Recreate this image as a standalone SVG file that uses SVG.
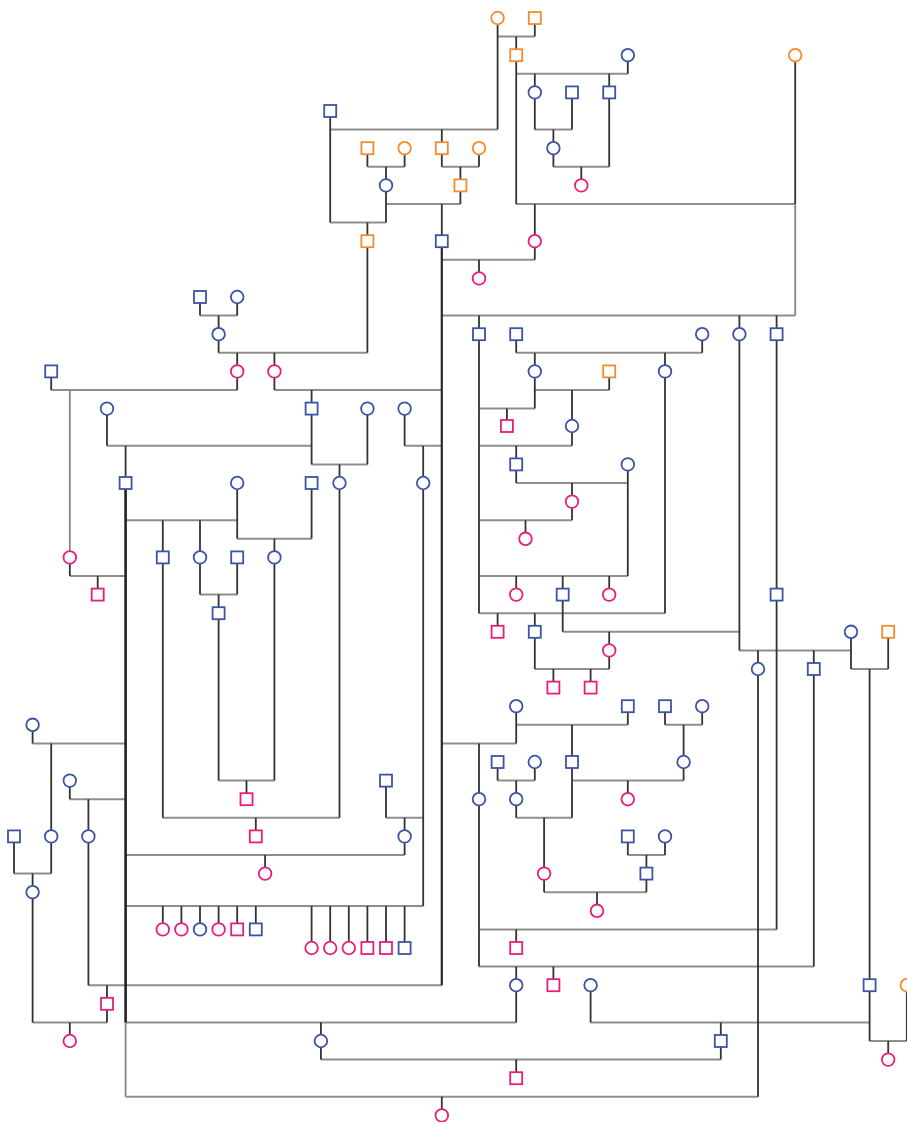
<svg xmlns="http://www.w3.org/2000/svg" width="907" height="1122" viewBox="0 0 907 1122">
<style>
.h{fill:none;stroke:#8e8e8e;stroke-width:2}
.v{fill:none;stroke:#333;stroke-width:1.8}
.g{fill:none;stroke:#858585;stroke-width:1.8}
.t{fill:none;stroke:#222;stroke-width:2.6}
.t2{fill:none;stroke:#2a2a2a;stroke-width:2.2}
circle,rect{fill:#fff;stroke-width:1.8}
.o{stroke:#f68b2c}.b{stroke:#3b54a5}.p{stroke:#e91e7b}
</style>
<rect width="907" height="1122" fill="#fff"/>
<g id="connectors">
<path class="h" d="M497.6 36.6H534.8M330.2 129.6H497.6M330.2 222.6H386M516.2 73.8H627.8M534.8 129.6H572M553.4 166.8H609.2M516.2 204H795.2M367.4 166.8H404.6M441.8 166.8H479M386 204H460.4M441.8 259.8H534.8M441.8 315.6H795.2M200 315.6H237.2M218.6 352.8H367.4M51.2 390H237.2M274.4 390H441.8M107 445.8H311.6M311.6 464.4H367.4M404.6 445.8H441.8M516.2 352.8H702.2M534.8 390H609.2M479 408.6H534.8M479 445.8H572M516.2 483H627.8M479 520.2H572M479 576H627.8M479 613.2H665M562.7 631.8H739.4M739.4 650.4H851M851 669H888.2M534.8 669H609.2M125.6 520.2H237.2M237.2 538.8H311.6M69.8 576H125.6M200 594.6H237.2M218.6 780.6H274.4M162.8 817.8H339.5M32.6 743.4H125.6M69.8 799.2H125.6M125.6 855H404.6M386 817.8H423.2M125.6 906H423.2M14 873.6H51.2M32.6 1022.4H107M88.4 985.2H441.8M125.6 1022.4H516.2M125.6 1096.8H758M320.9 1059.6H720.8M590.6 1022.4H869.6M869.6 1041H906.8M441.8 743.4H516.2M516.2 724.8H627.8M665 724.8H702.2M497.6 780.6H534.8M572 780.6H683.6M516.2 817.8H572M627.8 855H665M544.1 892.2H646.4M479 929.4H776.6M479 966.6H813.8"/>
<path class="v" d="M497.6 18V129.6M534.8 18V36.6M330.2 111V222.6M516.2 55.2V204M627.8 55.2V73.8M795.2 55.2V204M534.8 92.4V129.6M572 92.4V129.6M609.2 92.4V166.8M553.4 148.2V166.8M367.4 148.2V166.8M404.6 148.2V166.8M441.8 148.2V166.8M479 148.2V166.8M386 185.4V222.6M460.4 185.4V204M367.4 241.2V352.8M534.8 241.2V259.8M200 297V315.6M237.2 297V315.6M218.6 334.2V352.8M479 334.2V613.2M516.2 334.2V352.8M702.2 334.2V352.8M739.4 334.2V650.4M776.6 334.2V929.4M51.2 371.4V390M237.2 371.4V390M274.4 371.4V390M534.8 371.4V408.6M609.2 371.4V390M665 371.4V613.2M107 408.6V445.8M311.6 408.6V464.4M367.4 408.6V464.4M404.6 408.6V445.8M572 426V445.8M516.2 464.4V483M627.8 464.4V576M237.2 483V538.8M311.6 483V538.8M339.5 483V817.8M423.2 483V906M572 501.6V520.2M69.8 557.4V576M162.8 557.4V817.8M200 557.4V594.6M237.2 557.4V594.6M274.4 557.4V780.6M562.7 594.6V631.8M218.6 613.2V780.6M534.8 631.8V669M851 631.8V669M888.2 631.8V669M609.2 650.4V669M758 669V1096.8M813.8 669V966.6M32.6 724.8V743.4M516.2 706.2V743.4M627.8 706.2V724.8M665 706.2V724.8M702.2 706.2V724.8M497.6 762V780.6M534.8 762V780.6M572 762V817.8M683.6 762V780.6M69.8 780.6V799.2M386 780.6V817.8M479 799.2V966.6M516.2 799.2V817.8M14 836.4V873.6M51.2 836.4V873.6M88.4 836.4V985.2M404.6 836.4V855M627.8 836.4V855M665 836.4V855M544.1 873.6V892.2M646.4 873.6V892.2M32.6 892.2V1022.4M516.2 985.2V1022.4M590.6 985.2V1022.4M869.6 985.2V1041M906.8 985.2V1041M107 1003.8V1022.4M320.9 1041V1059.6M720.8 1041V1059.6"/>
<path class="v" d="M516.2 36.6V55.2M441.8 129.6V148.2M367.4 222.6V241.2M534.8 73.8V92.4M609.2 73.8V92.4M553.4 129.6V148.2M581.3 166.8V185.4M534.8 204V241.2M386 166.8V185.4M460.4 166.8V185.4M441.8 204V241.2M479 259.8V278.4M479 315.6V334.2M739.4 315.6V334.2M776.6 315.6V334.2M218.6 315.6V334.2M237.2 352.8V371.4M274.4 352.8V371.4M311.6 390V408.6M125.6 445.8V483M339.5 464.4V483M423.2 445.8V483M534.8 352.8V371.4M665 352.8V371.4M572 390V426M506.9 408.6V426M516.2 445.8V464.4M572 483V501.6M525.5 520.2V538.8M516.2 576V594.6M562.7 576V594.6M609.2 576V594.6M497.6 613.2V631.8M534.8 613.2V631.8M609.2 631.8V650.4M758 650.4V669M813.8 650.4V669M869.6 669V985.2M553.4 669V687.6M590.6 669V687.6M162.8 520.2V557.4M200 520.2V557.4M274.4 538.8V557.4M97.7 576V594.6M218.6 594.6V613.2M246.5 780.6V799.2M255.8 817.8V836.4M51.2 743.4V836.4M88.4 799.2V836.4M265.1 855V873.6M404.6 817.8V836.4M162.8 906V929.4M181.4 906V929.4M200 906V929.4M218.6 906V929.4M237.2 906V929.4M255.8 906V929.4M311.6 906V948M330.2 906V948M348.8 906V948M367.4 906V948M386 906V948M404.6 906V948M32.6 873.6V892.2M69.8 1022.4V1041M107 985.2V1003.8M320.9 1022.4V1041M441.8 1096.8V1115.4M516.2 1059.6V1078.2M720.8 1022.4V1041M888.2 1041V1059.6M479 743.4V799.2M572 724.8V762M683.6 724.8V762M516.2 780.6V799.2M627.8 780.6V799.2M544.1 817.8V873.6M646.4 855V873.6M597 892.2V910.8M516.2 929.4V948M516.2 966.6V985.2M553.4 966.6V985.2"/>
<path class="g" d="M795.2 204V315.6M125.6 1022.4V1096.8M69.8 390V557.4"/>
<path class="t2" d="M441.8 241.2V985.2"/>
<path class="t" d="M125.6 483V1022.4"/>
</g>
<g id="n1"><circle class="o" cx="497.6" cy="18" r="6.3"/></g>
<g id="n2"><rect class="o" x="528.8" y="12" width="12" height="12"/></g>
<g id="n3"><rect class="o" x="510.2" y="49.2" width="12" height="12"/></g>
<g id="n4"><circle class="b" cx="627.8" cy="55.2" r="6.3"/></g>
<g id="n5"><circle class="o" cx="795.2" cy="55.2" r="6.3"/></g>
<g id="n6"><circle class="b" cx="534.8" cy="92.4" r="6.3"/></g>
<g id="n7"><rect class="b" x="566" y="86.4" width="12" height="12"/></g>
<g id="n8"><rect class="b" x="603.2" y="86.4" width="12" height="12"/></g>
<g id="n9"><rect class="b" x="324.2" y="105" width="12" height="12"/></g>
<g id="n10"><circle class="b" cx="553.4" cy="148.2" r="6.3"/></g>
<g id="n11"><rect class="o" x="361.4" y="142.2" width="12" height="12"/></g>
<g id="n12"><circle class="o" cx="404.6" cy="148.2" r="6.3"/></g>
<g id="n13"><rect class="o" x="435.8" y="142.2" width="12" height="12"/></g>
<g id="n14"><circle class="o" cx="479" cy="148.2" r="6.3"/></g>
<g id="n15"><circle class="p" cx="581.3" cy="185.4" r="6.3"/></g>
<g id="n16"><circle class="b" cx="386" cy="185.4" r="6.3"/></g>
<g id="n17"><rect class="o" x="454.4" y="179.4" width="12" height="12"/></g>
<g id="n18"><rect class="o" x="361.4" y="235.2" width="12" height="12"/></g>
<g id="n19"><rect class="b" x="435.8" y="235.2" width="12" height="12"/></g>
<g id="n20"><circle class="p" cx="534.8" cy="241.2" r="6.3"/></g>
<g id="n21"><circle class="p" cx="479" cy="278.4" r="6.3"/></g>
<g id="n22"><rect class="b" x="194" y="291" width="12" height="12"/></g>
<g id="n23"><circle class="b" cx="237.2" cy="297" r="6.3"/></g>
<g id="n24"><circle class="b" cx="218.6" cy="334.2" r="6.3"/></g>
<g id="n25"><rect class="b" x="473" y="328.2" width="12" height="12"/></g>
<g id="n26"><rect class="b" x="510.2" y="328.2" width="12" height="12"/></g>
<g id="n27"><circle class="b" cx="702.2" cy="334.2" r="6.3"/></g>
<g id="n28"><circle class="b" cx="739.4" cy="334.2" r="6.3"/></g>
<g id="n29"><rect class="b" x="770.6" y="328.2" width="12" height="12"/></g>
<g id="n30"><rect class="b" x="45.2" y="365.4" width="12" height="12"/></g>
<g id="n31"><circle class="p" cx="237.2" cy="371.4" r="6.3"/></g>
<g id="n32"><circle class="p" cx="274.4" cy="371.4" r="6.3"/></g>
<g id="n33"><circle class="b" cx="534.8" cy="371.4" r="6.3"/></g>
<g id="n34"><rect class="o" x="603.2" y="365.4" width="12" height="12"/></g>
<g id="n35"><circle class="b" cx="665" cy="371.4" r="6.3"/></g>
<g id="n36"><circle class="b" cx="107" cy="408.6" r="6.3"/></g>
<g id="n37"><rect class="b" x="305.6" y="402.6" width="12" height="12"/></g>
<g id="n38"><circle class="b" cx="367.4" cy="408.6" r="6.3"/></g>
<g id="n39"><circle class="b" cx="404.6" cy="408.6" r="6.3"/></g>
<g id="n40"><rect class="p" x="500.9" y="420" width="12" height="12"/></g>
<g id="n41"><circle class="b" cx="572" cy="426" r="6.3"/></g>
<g id="n42"><rect class="b" x="510.2" y="458.4" width="12" height="12"/></g>
<g id="n43"><circle class="b" cx="627.8" cy="464.4" r="6.3"/></g>
<g id="n44"><rect class="b" x="119.6" y="477" width="12" height="12"/></g>
<g id="n45"><circle class="b" cx="237.2" cy="483" r="6.3"/></g>
<g id="n46"><rect class="b" x="305.6" y="477" width="12" height="12"/></g>
<g id="n47"><circle class="b" cx="339.5" cy="483" r="6.3"/></g>
<g id="n48"><circle class="b" cx="423.2" cy="483" r="6.3"/></g>
<g id="n49"><circle class="p" cx="572" cy="501.6" r="6.3"/></g>
<g id="n50"><circle class="p" cx="525.5" cy="538.8" r="6.3"/></g>
<g id="n51"><circle class="p" cx="69.8" cy="557.4" r="6.3"/></g>
<g id="n52"><rect class="b" x="156.8" y="551.4" width="12" height="12"/></g>
<g id="n53"><circle class="b" cx="200" cy="557.4" r="6.3"/></g>
<g id="n54"><rect class="b" x="231.2" y="551.4" width="12" height="12"/></g>
<g id="n55"><circle class="b" cx="274.4" cy="557.4" r="6.3"/></g>
<g id="n56"><rect class="p" x="91.7" y="588.6" width="12" height="12"/></g>
<g id="n57"><circle class="p" cx="516.2" cy="594.6" r="6.3"/></g>
<g id="n58"><rect class="b" x="556.7" y="588.6" width="12" height="12"/></g>
<g id="n59"><circle class="p" cx="609.2" cy="594.6" r="6.3"/></g>
<g id="n60"><rect class="b" x="770.6" y="588.6" width="12" height="12"/></g>
<g id="n61"><rect class="b" x="212.6" y="607.2" width="12" height="12"/></g>
<g id="n62"><rect class="p" x="491.6" y="625.8" width="12" height="12"/></g>
<g id="n63"><rect class="b" x="528.8" y="625.8" width="12" height="12"/></g>
<g id="n64"><circle class="b" cx="851" cy="631.8" r="6.3"/></g>
<g id="n65"><rect class="o" x="882.2" y="625.8" width="12" height="12"/></g>
<g id="n66"><circle class="p" cx="609.2" cy="650.4" r="6.3"/></g>
<g id="n67"><circle class="b" cx="758" cy="669" r="6.3"/></g>
<g id="n68"><rect class="b" x="807.8" y="663" width="12" height="12"/></g>
<g id="n69"><rect class="p" x="547.4" y="681.6" width="12" height="12"/></g>
<g id="n70"><rect class="p" x="584.6" y="681.6" width="12" height="12"/></g>
<g id="n71"><circle class="b" cx="32.6" cy="724.8" r="6.3"/></g>
<g id="n72"><circle class="b" cx="516.2" cy="706.2" r="6.3"/></g>
<g id="n73"><rect class="b" x="621.8" y="700.2" width="12" height="12"/></g>
<g id="n74"><rect class="b" x="659" y="700.2" width="12" height="12"/></g>
<g id="n75"><circle class="b" cx="702.2" cy="706.2" r="6.3"/></g>
<g id="n76"><rect class="b" x="491.6" y="756" width="12" height="12"/></g>
<g id="n77"><circle class="b" cx="534.8" cy="762" r="6.3"/></g>
<g id="n78"><rect class="b" x="566" y="756" width="12" height="12"/></g>
<g id="n79"><circle class="b" cx="683.6" cy="762" r="6.3"/></g>
<g id="n80"><circle class="b" cx="69.8" cy="780.6" r="6.3"/></g>
<g id="n81"><rect class="b" x="380" y="774.6" width="12" height="12"/></g>
<g id="n82"><rect class="p" x="240.5" y="793.2" width="12" height="12"/></g>
<g id="n83"><circle class="b" cx="479" cy="799.2" r="6.3"/></g>
<g id="n84"><circle class="b" cx="516.2" cy="799.2" r="6.3"/></g>
<g id="n85"><circle class="p" cx="627.8" cy="799.2" r="6.3"/></g>
<g id="n86"><rect class="b" x="8" y="830.4" width="12" height="12"/></g>
<g id="n87"><circle class="b" cx="51.2" cy="836.4" r="6.3"/></g>
<g id="n88"><circle class="b" cx="88.4" cy="836.4" r="6.3"/></g>
<g id="n89"><rect class="p" x="249.8" y="830.4" width="12" height="12"/></g>
<g id="n90"><circle class="b" cx="404.6" cy="836.4" r="6.3"/></g>
<g id="n91"><rect class="b" x="621.8" y="830.4" width="12" height="12"/></g>
<g id="n92"><circle class="b" cx="665" cy="836.4" r="6.3"/></g>
<g id="n93"><circle class="p" cx="265.1" cy="873.6" r="6.3"/></g>
<g id="n94"><circle class="p" cx="544.1" cy="873.6" r="6.3"/></g>
<g id="n95"><rect class="b" x="640.4" y="867.6" width="12" height="12"/></g>
<g id="n96"><circle class="b" cx="32.6" cy="892.2" r="6.3"/></g>
<g id="n97"><circle class="p" cx="597" cy="910.8" r="6.3"/></g>
<g id="n98"><circle class="p" cx="162.8" cy="929.4" r="6.3"/></g>
<g id="n99"><circle class="p" cx="181.4" cy="929.4" r="6.3"/></g>
<g id="n100"><circle class="b" cx="200" cy="929.4" r="6.3"/></g>
<g id="n101"><circle class="p" cx="218.6" cy="929.4" r="6.3"/></g>
<g id="n102"><rect class="p" x="231.2" y="923.4" width="12" height="12"/></g>
<g id="n103"><rect class="b" x="249.8" y="923.4" width="12" height="12"/></g>
<g id="n104"><circle class="p" cx="311.6" cy="948" r="6.3"/></g>
<g id="n105"><circle class="p" cx="330.2" cy="948" r="6.3"/></g>
<g id="n106"><circle class="p" cx="348.8" cy="948" r="6.3"/></g>
<g id="n107"><rect class="p" x="361.4" y="942" width="12" height="12"/></g>
<g id="n108"><rect class="p" x="380" y="942" width="12" height="12"/></g>
<g id="n109"><rect class="b" x="398.6" y="942" width="12" height="12"/></g>
<g id="n110"><rect class="p" x="510.2" y="942" width="12" height="12"/></g>
<g id="n111"><circle class="b" cx="516.2" cy="985.2" r="6.3"/></g>
<g id="n112"><rect class="p" x="547.4" y="979.2" width="12" height="12"/></g>
<g id="n113"><circle class="b" cx="590.6" cy="985.2" r="6.3"/></g>
<g id="n114"><rect class="b" x="863.6" y="979.2" width="12" height="12"/></g>
<g id="n115"><circle class="o" cx="906.8" cy="985.2" r="6.3"/></g>
<g id="n116"><rect class="p" x="101" y="997.8" width="12" height="12"/></g>
<g id="n117"><circle class="p" cx="69.8" cy="1041" r="6.3"/></g>
<g id="n118"><circle class="b" cx="320.9" cy="1041" r="6.3"/></g>
<g id="n119"><rect class="b" x="714.8" y="1035" width="12" height="12"/></g>
<g id="n120"><circle class="p" cx="888.2" cy="1059.6" r="6.3"/></g>
<g id="n121"><rect class="p" x="510.2" y="1072.2" width="12" height="12"/></g>
<g id="n122"><circle class="p" cx="441.8" cy="1115.4" r="6.3"/></g>
</svg>
